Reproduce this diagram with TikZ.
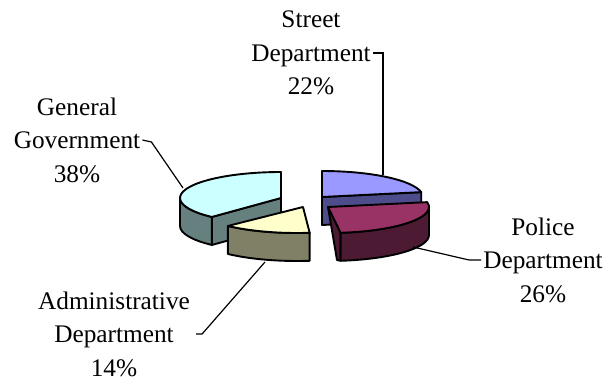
\documentclass[tikz,border=0pt]{standalone}
\usepackage{fontspec}
\setmainfont{Liberation Serif}
\usetikzlibrary{calc}
\definecolor{stop}{HTML}{9999FF}
\definecolor{sside}{HTML}{4D4D8C}
\definecolor{ptop}{HTML}{993366}
\definecolor{pside}{HTML}{4D1A33}
\definecolor{gtop}{HTML}{CCFFFF}
\definecolor{gside}{HTML}{668080}
\definecolor{atop}{HTML}{FFFFCC}
\definecolor{aside}{HTML}{808066}
\begin{document}
\begin{tikzpicture}[x=1pt,y=1pt,
  slice/.style={draw=black,line width=1.9pt,line join=round},
  lbl/.style={align=center,font=\fontsize{25.3}{33.5}\selectfont,inner sep=2pt},
  leader/.style={draw=black,line width=1.2pt},
  ell/.style={x radius=101pt,y radius=26pt}]
\useasboundingbox (0,0) rectangle (607,381);

% General Government
\coordinate (gA) at (281,183);
\path[slice,fill=gside] (gA) -- ($(gA)+(-133.2:101pt and 26pt)$) -- ++(0,-28) -- ($(gA)+(0,-28)$) -- cycle;
\path[slice,fill=gside] ($(gA)+(-133.2:101pt and 26pt)$) arc[start angle=-133.2,end angle=-180,ell] -- ++(0,-28) arc[start angle=-180,end angle=-133.2,ell] -- cycle;
\path[slice,fill=gtop] (gA) -- ($(gA)+(-133.2:101pt and 26pt)$) arc[start angle=-133.2,end angle=-270,ell] -- cycle;

% Administrative
\coordinate (aC) at (297,174);
\coordinate (aA) at (303,174);
\path[slice,fill=aside] ($(aC)+(-82.8:101pt and 26pt)$) arc[start angle=-82.8,end angle=-133.2,ell] -- ++(0,-28) arc[start angle=-133.2,end angle=-82.8,ell] -- cycle;
\path[slice,fill=atop] (aA) -- ($(aC)+(-82.8:101pt and 26pt)$) arc[start angle=-82.8,end angle=-133.2,ell] -- cycle;

% Street
\coordinate (sA) at (322,184);
\path[slice,fill=sside] (sA) -- ($(sA)+(10.8:101pt and 26pt)$) -- ++(0,-28) -- ($(sA)+(0,-28)$) -- cycle;
\path[slice,fill=stop] (sA) -- ($(sA)+(90:101pt and 26pt)$) arc[start angle=90,end angle=10.8,ell] -- cycle;

% Police
\coordinate (pA) at (328,174);
\path[slice,fill=pside] (pA) -- ($(pA)+(-82.8:101pt and 26pt)$) -- ++(0,-28) -- (337,121) -- cycle;
\path[slice,fill=pside] ($(pA)+(0:101pt and 26pt)$) arc[start angle=0,end angle=-82.8,ell] -- ++(0,-28) arc[start angle=-82.8,end angle=0,ell] -- cycle;
\path[slice,fill=ptop] (pA) -- ($(pA)+(10.8:101pt and 26pt)$) arc[start angle=10.8,end angle=-82.8,ell] -- cycle;

% Labels
\node[lbl] (street) at (311,328) {Street\\Department\\22\%};
\node[lbl] (police) at (543,121) {Police\\Department\\26\%};
\node[lbl] (admin) at (114,47) {Administrative\\Department\\14\%};
\node[lbl] (general) at (77,241) {General\\Government\\38\%};

% Leaders
\coordinate (sE) at (383,206);
\coordinate (gE) at (183,193);
\coordinate (aE) at (265,119);
\coordinate (pE) at (413,134);
\draw[leader] (street.east) -| (sE);
\draw[leader] (general.east) -- ++(9,-2) -- (gE);
\draw[leader] ([xshift=4pt]admin.east) -- ++(6,0) -- (aE);
\draw[leader] (police.west) -- ++(-12,0) -- (pE);
\end{tikzpicture}
\end{document}
